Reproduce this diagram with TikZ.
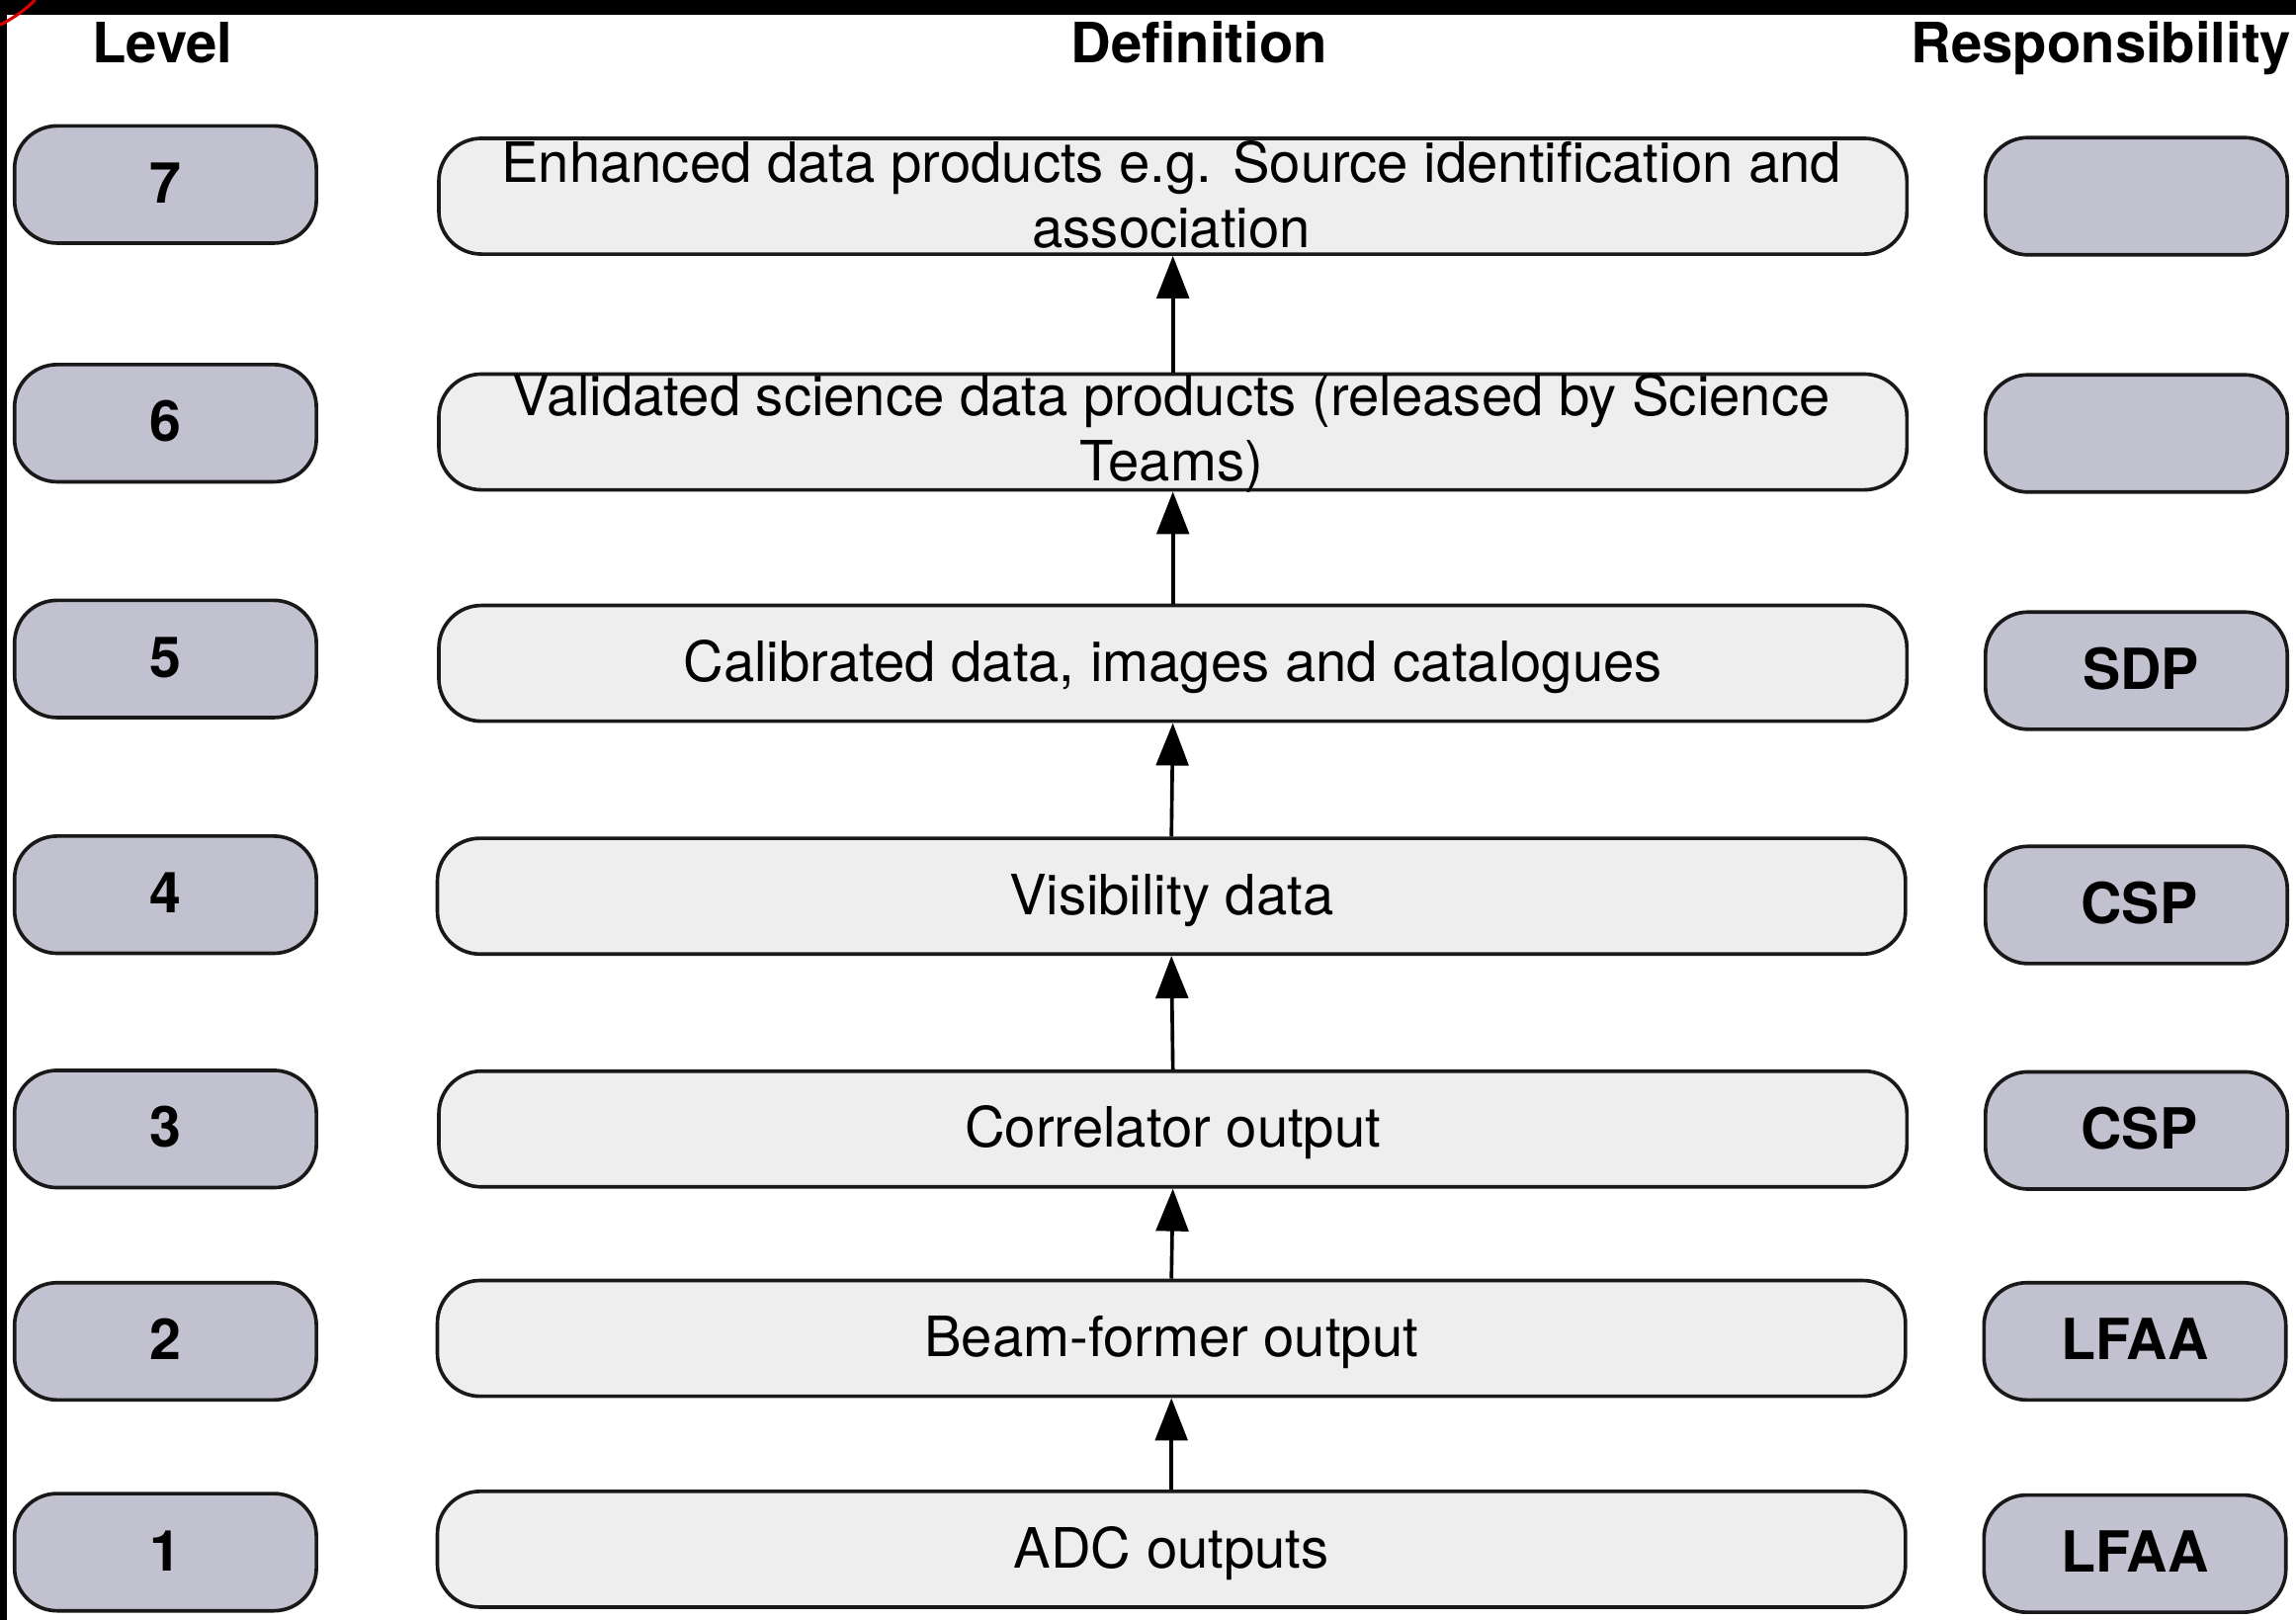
\documentclass[tikz,border=0pt]{standalone}
\usepackage{fontspec}
\setmainfont{TeX Gyre Heros}
\usetikzlibrary{arrows.meta}
\definecolor{tagfill}{RGB}{193,193,208}
\definecolor{deffill}{RGB}{238,238,238}
\begin{document}
\begin{tikzpicture}[x=0.01cm,y=-0.01cm,
  pill/.style={draw=black!90, line width=0.7pt, rounded corners=0.29cm, inner sep=0pt,
    text height=0.9em, text depth=0.18em},
  tagbox/.style={pill, fill=tagfill, minimum width=2.06cm, minimum height=0.8cm,
    font=\fontsize{11}{13}\selectfont\bfseries},
  defbox/.style={pill, fill=deffill, minimum width=10.02cm, minimum height=0.79cm,
    font=\fontsize{10.8}{12.8}\selectfont},
  deftext/.style={align=center, inner sep=0pt, font=\fontsize{10.8}{12.8}\selectfont},
  head/.style={anchor=base, font=\fontsize{10.8}{12}\selectfont\bfseries},
  up/.style={-{Triangle[width=0.22cm,length=0.29cm]}, line width=0.7pt}
]
\useasboundingbox (0,0) rectangle (1568,1106);
% frame of the sheet
\fill[black] (0,0) rectangle (1568,1106);
\fill[white] (5,10) rectangle (1568,1106);
\draw[red!85!black, line width=0.6pt] (0,17) .. controls (10,12) and (18,6) .. (24,0);

% column headings
\node[head] (hlevel) at (111,43) {Level};
\node[head] (hdef) at (819,43) {Definition};
\node[head] (hresp) at (1435,43) {Responsibility};

% level column
\node[tagbox] (l7) at (113,126) {7};
\node[tagbox] (l6) at (113,289) {6};
\node[tagbox] (l5) at (113,450) {5};
\node[tagbox] (l4) at (113,611) {4};
\node[tagbox] (l3) at (113,771) {3};
\node[tagbox] (l2) at (113,916) {2};
\node[tagbox] (l1) at (113,1060) {1};

% definition column
\node[defbox] (d7) at (801,134) {};
\node[deftext] (t7) at (800,133) {Enhanced data products e.g. Source identification and\\association};
\node[defbox] (d6) at (801,295) {};
\node[deftext] (t6) at (800,296) {Validated science data products (released by Science\\Teams)};
\node[defbox] (d5) at (801,453) {Calibrated data, images and catalogues};
\node[defbox] (d4) at (800,612) {Visibility data};
\node[defbox] (d3) at (801,771) {Correlator output};
\node[defbox] (d2) at (800,914) {Beam-former output};
\node[defbox] (d1) at (800,1058) {ADC outputs};

% responsibility column
\node[tagbox] (r7) at (1459,134) {};
\node[tagbox] (r6) at (1459,296) {};
\node[tagbox] (r5) at (1459,458) {\hspace*{0.06cm}SDP};
\node[tagbox] (r4) at (1459,618) {\hspace*{0.04cm}CSP};
\node[tagbox] (r3) at (1459,772) {\hspace*{0.04cm}CSP};
\node[tagbox] (r2) at (1458,916) {LFAA};
\node[tagbox] (r1) at (1458,1061) {LFAA};

% data flow between levels
\draw[up] (d1.north) -- (d2.south);
\draw[up] (d2.north) -- (d3.south);
\draw[up] (d3.north) -- (d4.south);
\draw[up] (d4.north) -- (d5.south);
\draw[up] (d5.north) -- (d6.south);
\draw[up] (d6.north) -- (d7.south);
\end{tikzpicture}
\end{document}
